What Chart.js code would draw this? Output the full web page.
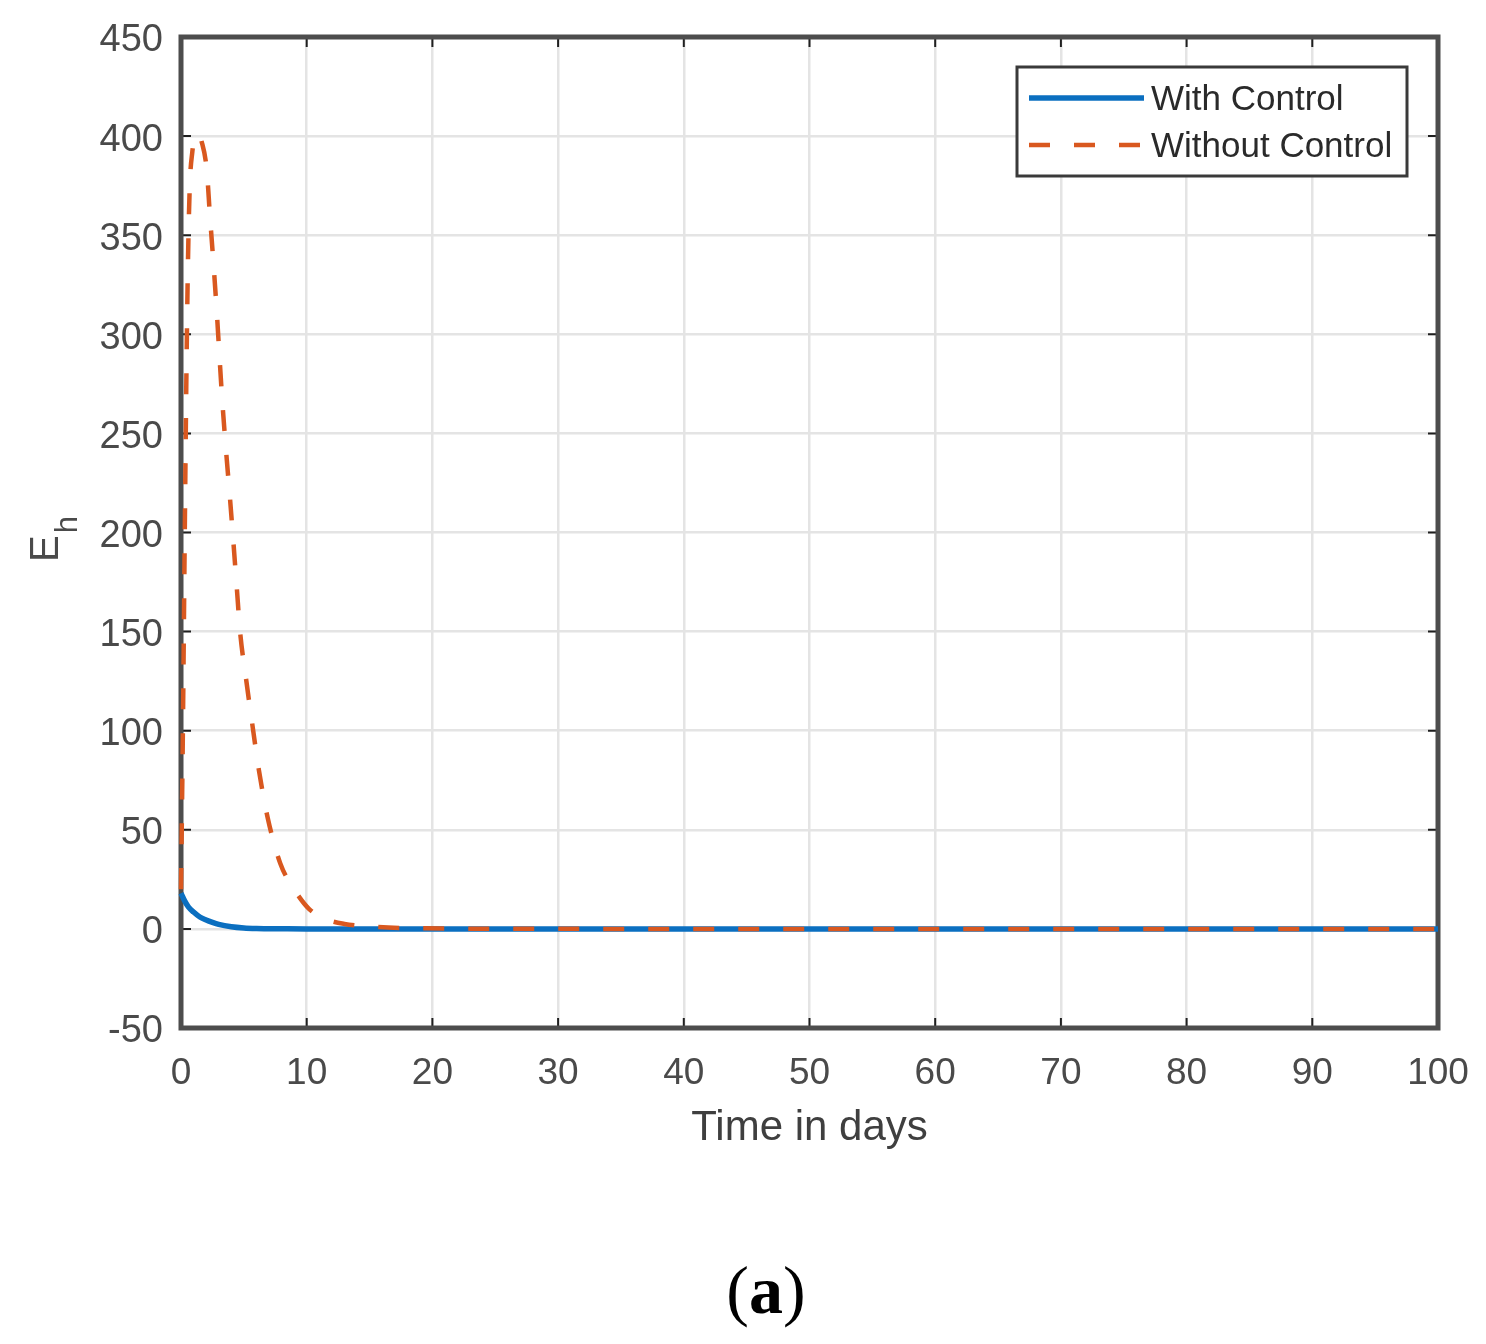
<!DOCTYPE html>
<html>
<head>
<meta charset="utf-8">
<script src="https://cdn.jsdelivr.net/npm/chart.js@4"></script>
<style>
  html, body { margin: 0; padding: 0; background: #fff; }
  canvas { display: block; }
</style>
</head>
<body>
<canvas id="chart-eh" width="1486" height="1344"></canvas>
<script>
// Values (E_h against time in days)
const withDays = [0, 0.3, 0.6, 1, 1.5, 2, 2.5, 3, 4, 5, 6, 8, 10, 20, 40, 60, 80, 100];
const withControl = [18, 14, 11, 8.5, 6, 4.5, 3.3, 2.3, 1.1, 0.5, 0.25, 0.1, 0, 0, 0, 0, 0, 0];

const withoutDays = [0, 0.15, 0.3, 0.45, 0.55, 0.7, 0.9, 1.1, 1.35, 1.65, 2.05, 2.3, 2.58, 2.84, 3.05, 3.3,
  3.6, 3.9, 4.17, 4.44, 4.7, 5.2, 5.7, 6.2, 6.9, 7.9, 9.0, 10.2, 11.5, 13, 15, 18, 25, 40, 60, 80, 100];
const withoutControl = [20, 100, 200, 290, 335, 375, 392, 399, 401, 397, 383, 360, 336, 312, 290, 265,
  240, 217, 195, 172, 150, 125, 102, 80, 56, 33, 20, 10, 5, 2.5, 1.2, 0.4, 0.1, 0, 0, 0, 0];

const xTicks = [0, 10, 20, 30, 40, 50, 60, 70, 80, 90, 100];
const yTicks = [-50, 0, 50, 100, 150, 200, 250, 300, 350, 400, 450];

const seriesLabels = ['With Control', 'Without Control'];
const seriesColors = ['#0b6fc0', '#d9581f'];

const toPoints = (xs, ys) => xs.map((x, i) => ({ x, y: ys[i] }));

const SANS = '"Liberation Sans", Arial, sans-serif';
const TEXT = '#4a4a4a';

/**
 * Box around the plot area with MATLAB-like inward ticks
 */
const framePlugin = {
  id: 'frame',
  beforeDatasetsDraw(chart) {
    const { ctx, chartArea: a, scales: { x, y } } = chart;
    ctx.save();
    ctx.strokeStyle = '#1f1f1f';
    ctx.lineWidth = 2;
    const len = 10;
    ctx.beginPath();
    xTicks.forEach(v => {
      const px = x.getPixelForValue(v);
      ctx.moveTo(px, a.bottom); ctx.lineTo(px, a.bottom - len);
      ctx.moveTo(px, a.top); ctx.lineTo(px, a.top + len);
    });
    yTicks.forEach(v => {
      const py = y.getPixelForValue(v);
      ctx.moveTo(a.left, py); ctx.lineTo(a.left + len, py);
      ctx.moveTo(a.right, py); ctx.lineTo(a.right - len, py);
    });
    ctx.stroke();
    ctx.strokeStyle = '#4d4d4d';
    ctx.lineWidth = 5;
    ctx.strokeRect(a.left, a.top, a.right - a.left, a.bottom - a.top);
    ctx.restore();
  }
};

/**
 * Boxed legend in the upper right corner, drawn from the datasets
 */
const legendPlugin = {
  id: 'boxLegend',
  afterDatasetsDraw(chart) {
    const { ctx, chartArea: a } = chart;
    const left = a.right - 421, top = a.top + 30, w = 390, h = 109;
    ctx.save();
    ctx.fillStyle = '#fff';
    ctx.fillRect(left, top, w, h);
    ctx.strokeStyle = '#3a3a3a';
    ctx.lineWidth = 3;
    ctx.strokeRect(left, top, w, h);
    chart.data.datasets.forEach((ds, i) => {
      const cy = top + 31 + i * 47;
      ctx.strokeStyle = ds.borderColor;
      ctx.lineWidth = ds.borderWidth;
      ctx.setLineDash(ds.borderDash || []);
      ctx.beginPath();
      ctx.moveTo(left + 12, cy);
      ctx.lineTo(left + 127, cy);
      ctx.stroke();
      ctx.setLineDash([]);
      ctx.fillStyle = '#2a2a2a';
      ctx.font = '35px ' + SANS;
      ctx.textBaseline = 'middle';
      ctx.textAlign = 'left';
      ctx.fillText(ds.label, left + 134, cy + 2);
    });
    ctx.restore();
  }
};

/**
 * Y title with subscript and the panel tag under the chart
 */
const textPlugin = {
  id: 'extraText',
  afterDraw(chart) {
    const { ctx } = chart;
    ctx.save();
    ctx.fillStyle = TEXT;
    ctx.translate(58, 562);
    ctx.rotate(-Math.PI / 2);
    ctx.textBaseline = 'alphabetic';
    ctx.textAlign = 'left';
    ctx.font = '40px ' + SANS;
    ctx.fillText('E', 0, 0);
    const ew = ctx.measureText('E').width;
    ctx.font = '31px ' + SANS;
    ctx.fillText('h', ew + 2, 19);
    ctx.restore();

    ctx.save();
    ctx.fillStyle = '#000';
    ctx.textBaseline = 'alphabetic';
    ctx.textAlign = 'left';
    const reg = '68px "Liberation Serif", "Times New Roman", serif';
    const bold = 'bold 68px "Liberation Serif", "Times New Roman", serif';
    ctx.font = reg;
    const pw = ctx.measureText('(').width;
    const pw2 = ctx.measureText(')').width;
    ctx.font = bold;
    const aw = ctx.measureText('a').width;
    let x0 = 766 - (pw + aw + pw2) / 2;
    const base = 1313;
    ctx.font = reg;
    ctx.fillText('(', x0, base);
    ctx.font = bold;
    ctx.fillText('a', x0 + pw, base);
    ctx.font = reg;
    ctx.fillText(')', x0 + pw + aw, base);
    ctx.restore();
  }
};

new Chart(document.getElementById('chart-eh'), {
  type: 'line',
  data: {
    datasets: [{
      label: seriesLabels[0],
      data: toPoints(withDays, withControl),
      borderColor: seriesColors[0],
      borderWidth: 5.5,
      pointRadius: 0,
      cubicInterpolationMode: 'monotone',
      clip: 8,
      order: 1
    }, {
      label: seriesLabels[1],
      data: toPoints(withoutDays, withoutControl),
      borderColor: seriesColors[1],
      borderWidth: 4.5,
      borderDash: [21, 24],
      pointRadius: 0,
      cubicInterpolationMode: 'monotone',
      clip: 8,
      order: 0
    }]
  },
  options: {
    responsive: false,
    animation: false,
    devicePixelRatio: 1,
    layout: { padding: { top: 37, right: 48, bottom: 0, left: 0 } },
    plugins: {
      legend: { display: false },
      tooltip: { enabled: false }
    },
    scales: {
      x: {
        type: 'linear',
        min: 0,
        max: 100,
        afterBuildTicks: s => { s.ticks = xTicks.map(v => ({ value: v })); },
        afterFit: s => { s.height = 316; s.paddingLeft = 0; s.paddingRight = 0; },
        grid: { color: '#e4e4e4', lineWidth: 2.5, drawTicks: false },
        border: { display: false },
        ticks: {
          padding: 24,
          color: TEXT,
          font: { family: SANS, size: 37 }
        },
        title: {
          display: true,
          text: 'Time in days',
          color: '#3f3f3f',
          font: { family: SANS, size: 42 },
          padding: { top: 0, bottom: 190 }
        }
      },
      y: {
        min: -50,
        max: 450,
        afterBuildTicks: s => { s.ticks = yTicks.map(v => ({ value: v })); },
        afterFit: s => { s.width = 181; s.paddingTop = 0; s.paddingBottom = 0; },
        grid: { color: '#e4e4e4', lineWidth: 2.5, drawTicks: false },
        border: { display: false },
        ticks: {
          padding: 18,
          labelOffset: 4,
          color: TEXT,
          font: { family: SANS, size: 38 }
        }
      }
    }
  },
  plugins: [framePlugin, legendPlugin, textPlugin]
});
</script>
</body>
</html>
